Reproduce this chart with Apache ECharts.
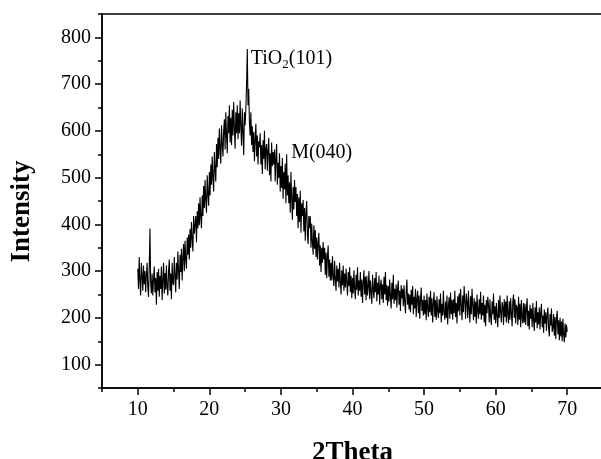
<!DOCTYPE html>
<html><head><meta charset="utf-8">
<script src="https://cdn.jsdelivr.net/npm/echarts@6/dist/echarts.min.js"></script>
<style>html,body{margin:0;padding:0;background:#fff}#c{width:601px;height:459px}</style>
</head><body><div id="c"></div>
<script>
// 2Theta sampling grid (degrees)
const thetaStart = 10.0;
const thetaStep = 0.1;
// Intensity, one row per degree (10.0 ... 69.9), then 70.0
const intensity = [
305,262,330,280,248,318,290,258,312,272,
300,255,290,318,265,245,308,391,275,252,
295,248,282,310,255,285,228,298,258,305,
245,290,262,310,238,280,318,252,296,260,
312,265,248,300,325,258,295,240,318,275,
270,330,290,255,318,282,342,298,262,335,
298,348,280,330,358,300,365,325,305,372,
335,378,325,390,350,405,368,342,418,380,
380,418,362,428,392,445,398,458,415,392,
462,418,482,435,495,450,425,505,465,440,
512,462,528,485,545,500,470,555,518,492,
572,522,585,540,605,560,530,612,572,545,
600,625,560,640,590,552,632,595,655,575,
628,570,645,590,662,605,562,640,595,655,
582,638,595,665,608,568,648,600,548,640,
612,648,700,775,655,690,615,590,640,570,
610,555,598,535,582,615,545,590,528,578,
565,595,528,570,508,580,540,600,518,562,
572,515,558,585,505,552,492,575,525,555,
528,560,492,545,572,485,532,500,552,470,
525,478,542,455,512,475,530,445,550,462,
505,445,490,425,512,455,410,480,432,495,
448,480,418,465,392,458,405,472,382,445,
418,452,385,435,365,425,450,378,358,418,
392,418,350,402,362,335,398,348,388,330,
372,325,360,382,312,355,298,350,318,362,
325,350,292,340,285,332,355,288,325,280,
318,280,332,288,268,322,282,258,312,278,
305,265,318,278,250,302,270,312,258,295,
265,305,275,248,298,268,308,255,290,242,
285,252,302,262,240,292,260,308,248,280,
258,298,245,282,232,275,302,250,288,238,
290,248,268,300,240,280,255,230,292,262,
242,285,255,298,235,275,250,290,228,268,
282,240,272,232,288,250,298,238,270,226,
268,235,282,246,220,275,240,292,230,262,
238,272,222,262,280,228,258,215,270,242,
262,225,270,234,210,258,282,228,252,218,
250,212,260,228,268,208,245,220,262,202,
242,258,210,248,198,240,265,215,238,205,
248,208,238,195,252,222,202,245,212,258,
205,242,190,232,255,202,238,196,246,215,
200,240,210,252,190,230,205,258,212,196,
235,200,248,186,225,244,198,254,208,238,
196,240,210,258,202,232,188,246,214,252,
205,262,228,195,248,212,268,235,198,252,
235,200,258,218,190,246,208,262,228,195,
242,202,235,188,250,215,198,240,208,256,
196,232,205,248,190,228,182,238,210,245,
228,190,240,202,185,235,208,252,196,225,
188,232,205,180,238,200,248,212,190,234,
225,185,240,202,235,190,248,208,188,236,
196,242,210,182,236,250,200,240,188,228,
222,185,245,196,230,180,238,202,188,232,
190,230,185,222,242,182,215,175,228,198,
220,180,232,195,172,222,190,236,178,212,
186,222,175,212,230,180,205,168,218,188,
212,172,205,222,178,160,208,184,220,170,
178,208,162,202,155,198,215,165,195,152,
200,160,192,150,198,165,148,188,158,185,
170
];
const xTickLabels = [10, 20, 30, 40, 50, 60, 70];
const xMinorTicks = [5, 15, 25, 35, 45, 55, 65, 75];
const yTickLabels = [100, 200, 300, 400, 500, 600, 700, 800];
const yMinorTicks = [50, 150, 250, 350, 450, 550, 650, 750, 850];
const peakTheta = [25.3, 30.8];
const peakValue = [775, 550];
const xName = '2Theta';
const yName = 'Intensity';

const FONT = '"Liberation Serif", "Times New Roman", serif';
const chart = echarts.init(document.getElementById('c'), null, {renderer: 'canvas'});
const data = intensity.map((v, i) => [+(thetaStart + i * thetaStep).toFixed(2), v]);

const GRID = {left: 102, top: 14, right: -2, bottom: 71};
const gridW = 601 - GRID.left - GRID.right;
const gridH = 459 - GRID.top - GRID.bottom;
const axisLineStyle = {color: '#000', width: 1.5};

chart.setOption({
  animation: false,
  textStyle: {fontFamily: FONT},
  grid: Object.assign({show: true, borderColor: '#000', borderWidth: 1.5, backgroundColor: 'transparent',
    containLabel: false, outerBoundsMode: 'none'}, GRID),
  xAxis: [{
    type: 'value', min: 5, max: 75, position: 'bottom',
    axisLine: {show: true, onZero: false, lineStyle: axisLineStyle},
    axisTick: {show: true, customValues: xTickLabels, length: 7, lineStyle: {color: '#000', width: 1.5}},
    axisLabel: {show: true, customValues: xTickLabels, fontSize: 20, color: '#000', fontFamily: FONT, margin: 12},
    splitLine: {show: false},
    name: xName, nameLocation: 'middle', nameGap: 52,
    nameTextStyle: {fontSize: 27, fontWeight: 'bold', color: '#000', fontFamily: FONT}
  }, {
    type: 'value', min: 5, max: 75, position: 'top', offset: -gridH,
    axisLine: {show: false},
    axisTick: {show: true, inside: true, customValues: xMinorTicks, length: 4, lineStyle: {color: '#000', width: 1.5}},
    axisLabel: {show: false}, splitLine: {show: false}
  }],
  yAxis: [{
    type: 'value', min: 50, max: 850, position: 'left',
    axisLine: {show: true, onZero: false, lineStyle: axisLineStyle},
    axisTick: {show: true, customValues: yTickLabels, length: 7, lineStyle: {color: '#000', width: 1.5}},
    axisLabel: {show: true, customValues: yTickLabels, fontSize: 20, color: '#000', fontFamily: FONT, margin: 11},
    splitLine: {show: false}
  }, {
    type: 'value', min: 50, max: 850, position: 'right', offset: -gridW,
    axisLine: {show: false},
    axisTick: {show: true, inside: true, customValues: yMinorTicks, length: 4, lineStyle: {color: '#000', width: 1.5}},
    axisLabel: {show: false}, splitLine: {show: false}
  }],
  graphic: [{
    type: 'text', x: 22, y: 211.5, rotation: Math.PI / 2,
    style: {text: yName, fontSize: 27, fontWeight: 'bold', fontFamily: FONT, fill: '#000', align: 'center', verticalAlign: 'middle'}
  }],
  series: [{
    type: 'line', xAxisIndex: 0, yAxisIndex: 0, data: data,
    showSymbol: false, symbol: 'none', sampling: null,
    lineStyle: {color: '#000', width: 1.1},
    markPoint: {
      symbol: 'circle', symbolSize: 1, silent: true,
      itemStyle: {color: 'rgba(0,0,0,0)'},
      data: [{
        coord: [peakTheta[0], peakValue[0]],
        label: {show: true, position: 'right', distance: 0, offset: [3, 11],
          formatter: '{a|TiO}{s|2}{a|(101)}',
          rich: {
            a: {fontSize: 20, fontFamily: FONT, color: '#000', lineHeight: 22, verticalAlign: 'top'},
            s: {fontSize: 13, fontFamily: FONT, color: '#000', lineHeight: 13, verticalAlign: 'bottom', padding: [14, 0, 0, 0]}
          }}
      }, {
        coord: [peakTheta[1], peakValue[1]],
        label: {show: true, position: 'right', distance: 0, offset: [4, -2],
          formatter: 'M(040)', fontSize: 20, fontFamily: FONT, color: '#000'}
      }]
    }
  }]
});
</script></body></html>
